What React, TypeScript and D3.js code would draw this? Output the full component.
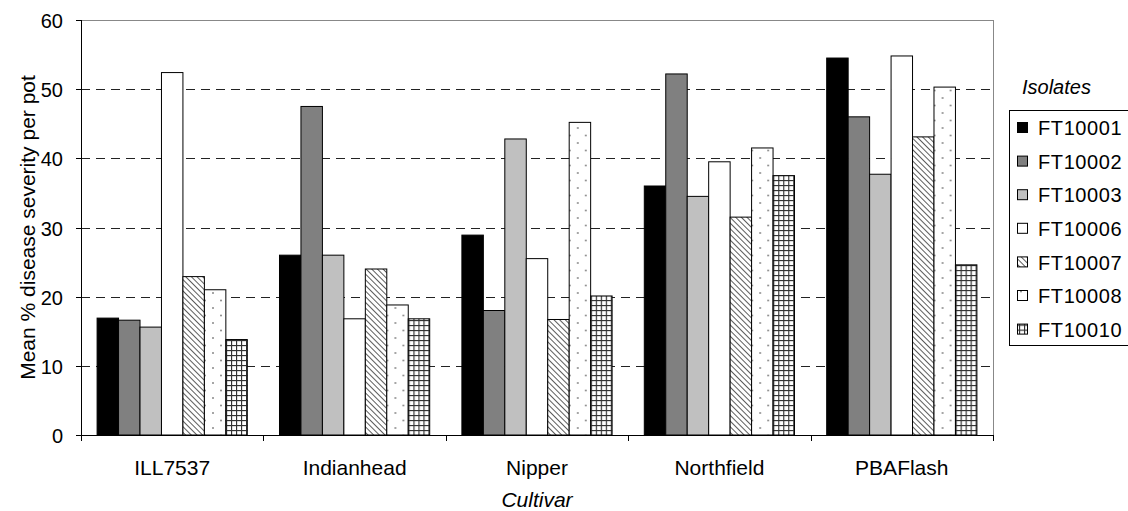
import React from "react";
import * as d3 from "d3";

const cultivars = ["ILL7537", "Indianhead", "Nipper", "Northfield", "PBAFlash"];
const isolates = ["FT10001", "FT10002", "FT10003", "FT10006", "FT10007", "FT10008", "FT10010"];

// one array per isolate, values in cultivar order
const ft10001 = [16.9, 26.0, 28.9, 36.0, 54.5];
const ft10002 = [16.6, 47.5, 18.0, 52.2, 46.0];
const ft10003 = [15.6, 26.0, 42.8, 34.5, 37.7];
const ft10006 = [52.4, 16.8, 25.5, 39.5, 54.8];
const ft10007 = [22.9, 24.0, 16.7, 31.5, 43.1];
const ft10008 = [21.0, 18.8, 45.2, 41.5, 50.3];
const ft10010 = [13.8, 16.8, 20.1, 37.5, 24.6];
const seriesValues = [ft10001, ft10002, ft10003, ft10006, ft10007, ft10008, ft10010];

const yTicks = [0, 10, 20, 30, 40, 50, 60];

const fills = ["#000000", "#808080", "#c0c0c0", "#ffffff", "url(#hatch)", "url(#dots)", "url(#grid)"];

const W = 1128;
const H = 511;
const MARGIN = { top: 20, right: 135, bottom: 76, left: 81 };

const App = () => {
  const boundsWidth = W - MARGIN.left - MARGIN.right;
  const boundsHeight = H - MARGIN.top - MARGIN.bottom;

  const xScale = d3.scaleBand().domain(cultivars).range([0, boundsWidth]).padding(0);
  const inner = d3
    .scaleBand()
    .domain(isolates)
    .range([0, xScale.bandwidth()])
    .paddingInner(0)
    .paddingOuter(0.75);
  const yScale = d3.scaleLinear().domain([0, 60]).range([boundsHeight, 0]);

  const font = "'Liberation Sans', Arial, sans-serif";

  return (
    <svg width={W} height={H} style={{ position: "absolute", left: 0, top: 0, fontFamily: font }}>
      <defs>
        <pattern id="hatch" width={4} height={4} patternUnits="userSpaceOnUse" patternTransform="rotate(-45)">
          <rect width={4} height={4} fill="#fff" />
          <line x1={0} y1={0} x2={0} y2={4} stroke="#333" strokeWidth={1.6} />
        </pattern>
        <pattern id="dots" width={16} height={15} patternUnits="userSpaceOnUse">
          <rect width={16} height={15} fill="#fff" />
          <circle cx={4} cy={3} r={1} fill="#888" />
          <circle cx={12} cy={10.5} r={1} fill="#888" />
        </pattern>
        <pattern id="grid" width={5} height={5} patternUnits="userSpaceOnUse">
          <rect width={5} height={5} fill="#fff" />
          <line x1={0.5} y1={0} x2={0.5} y2={5} stroke="#333" strokeWidth={1.3} />
          <line x1={0} y1={0.5} x2={5} y2={0.5} stroke="#333" strokeWidth={1.3} />
        </pattern>
      </defs>
      <g transform={`translate(${MARGIN.left},${MARGIN.top})`}>
        {/* plot area border */}
        <rect x={0.5} y={0.5} width={boundsWidth} height={boundsHeight} fill="none" stroke="#888" strokeWidth={1} />
        {/* gridlines */}
        {yTicks.slice(1, -1).map((t) => (
          <line
            key={t}
            x1={0}
            x2={boundsWidth}
            y1={Math.round(yScale(t)) + 0.5}
            y2={Math.round(yScale(t)) + 0.5}
            stroke="#222"
            strokeDasharray="9,6"
          />
        ))}
        {/* bars */}
        {cultivars.map((c, ci) => (
          <g key={c} transform={`translate(${xScale(c)},0)`}>
            {isolates.map((iso, si) => {
              const v = seriesValues[si][ci];
              return (
                <rect
                  key={iso}
                  x={inner(iso)}
                  y={yScale(v)}
                  width={inner.bandwidth()}
                  height={boundsHeight - yScale(v)}
                  fill={fills[si]}
                  stroke="#000"
                  strokeWidth={1}
                />
              );
            })}
          </g>
        ))}
        {/* y axis */}
        <line x1={0.5} x2={0.5} y1={0} y2={boundsHeight} stroke="#000" />
        {yTicks.map((t) => (
          <g key={t} transform={`translate(0,${Math.round(yScale(t)) + 0.5})`}>
            <line x1={-5} x2={0} stroke="#000" />
            <text x={-18} dy="0.35em" textAnchor="end" fontSize={20}>
              {t}
            </text>
          </g>
        ))}
        {/* x axis */}
        <line x1={0} x2={boundsWidth} y1={boundsHeight + 0.5} y2={boundsHeight + 0.5} stroke="#000" />
        {d3.range(cultivars.length + 1).map((i) => (
          <line
            key={i}
            x1={Math.round(i * xScale.step()) + 0.5}
            x2={Math.round(i * xScale.step()) + 0.5}
            y1={boundsHeight}
            y2={boundsHeight + 6}
            stroke="#000"
          />
        ))}
        {cultivars.map((c) => (
          <text key={c} x={(xScale(c) ?? 0) + xScale.bandwidth() / 2} y={boundsHeight + 40} textAnchor="middle" fontSize={21}>
            {c}
          </text>
        ))}
        <text x={boundsWidth / 2} y={boundsHeight + 72} textAnchor="middle" fontSize={21} fontStyle="italic">
          Cultivar
        </text>
        <text transform={`translate(${-46},${boundsHeight / 2}) rotate(-90)`} textAnchor="middle" fontSize={21}>
          Mean % disease severity per pot
        </text>
      </g>
      {/* legend */}
      <g transform="translate(1009,0)">
        <text x={13} y={94} fontSize={20} fontStyle="italic">
          Isolates
        </text>
        <rect x={0.5} y={110.5} width={140} height={235} fill="#fff" stroke="#000" />
        {isolates.map((iso, i) => (
          <g key={iso} transform={`translate(0,${128 + i * 33.6})`}>
            <rect x={8.5} y={-5.5} width={10} height={10} fill={fills[i]} stroke="#000" />
            <text x={29} dy="0.36em" fontSize={20} letterSpacing={0.6}>
              {iso}
            </text>
          </g>
        ))}
      </g>
    </svg>
  );
};

export default App;
